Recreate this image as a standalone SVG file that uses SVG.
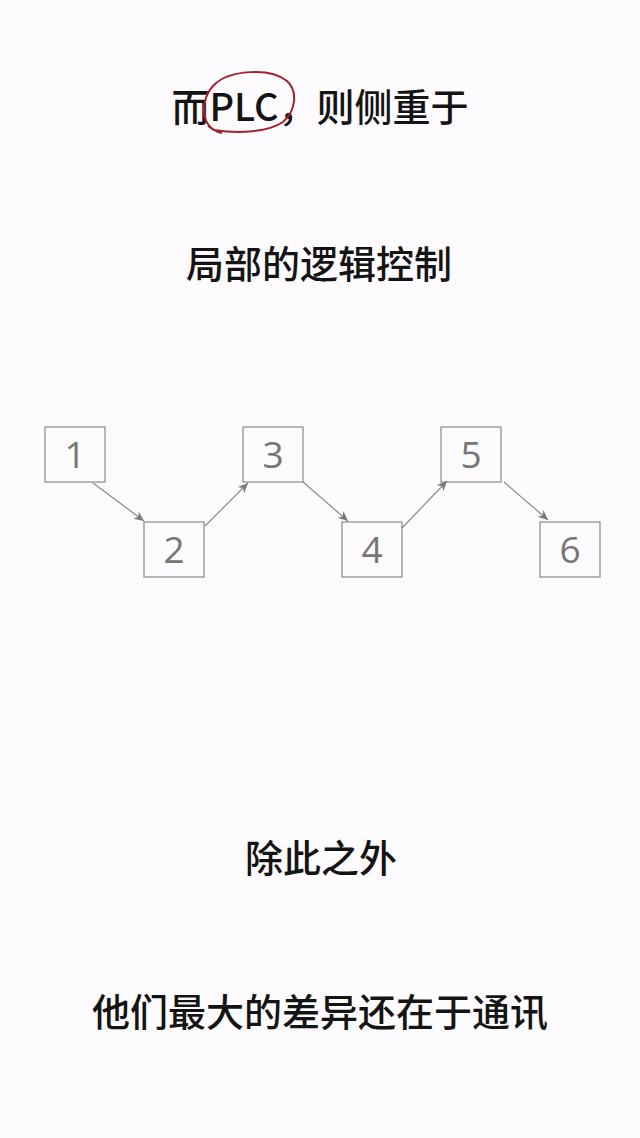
<svg xmlns="http://www.w3.org/2000/svg" width="640" height="1138" viewBox="0 0 640 1138">
<style>
.t{font-family:"Noto Sans CJK SC","Noto Sans",sans-serif;font-size:38px;fill:#141414;text-anchor:middle;font-weight:500}
.box{fill:none;stroke:#8a8a8a;stroke-width:1.2}
.num{font-family:"Open Sans","Noto Sans",sans-serif;font-size:37px;fill:#767676;text-anchor:middle}
.edge{stroke:#8a8a8a;stroke-width:1.2;fill:none;marker-end:url(#arr)}
</style>
<defs>
<marker id="arr" markerWidth="12" markerHeight="10" refX="10" refY="5" orient="auto" markerUnits="userSpaceOnUse">
<path d="M0,0.5 L10,5 L0,9.5 L3,5 Z" fill="#7a7a7a"/>
</marker>
</defs>
<rect width="640" height="1138" fill="#fdfbfd"/>
<g id="title1">
<text class="t" x="320" y="121">而PLC，则侧重于</text>
<path d="M222,133 C200,129 199,100 214,85 C229,70 270,67 287,81 C298,91 296,111 283,122 C268,132 240,134 214,130 L208,126" fill="none" stroke="#a3232c" stroke-width="2"/>
</g>
<g id="title2"><text class="t" x="319" y="278">局部的逻辑控制</text></g>
<g id="n1"><rect class="box" x="45" y="427" width="60" height="55"/><text class="num" x="75" y="468">1</text></g>
<g id="n2"><rect class="box" x="144" y="522" width="60" height="55"/><text class="num" x="174" y="563">2</text></g>
<g id="n3"><rect class="box" x="243" y="427" width="60" height="55"/><text class="num" x="273" y="468">3</text></g>
<g id="n4"><rect class="box" x="342" y="522" width="60" height="55"/><text class="num" x="372" y="563">4</text></g>
<g id="n5"><rect class="box" x="441" y="427" width="60" height="55"/><text class="num" x="471" y="468">5</text></g>
<g id="n6"><rect class="box" x="540" y="522" width="60" height="55"/><text class="num" x="570" y="563">6</text></g>
<g id="connectors">
<line class="edge" x1="93" y1="483" x2="144" y2="521"/>
<line class="edge" x1="205" y1="526" x2="248" y2="483"/>
<line class="edge" x1="303" y1="482" x2="348" y2="521"/>
<line class="edge" x1="402" y1="528" x2="447" y2="481"/>
<line class="edge" x1="504" y1="482" x2="548" y2="520"/>
</g>
<g id="title3"><text class="t" x="321" y="872">除此之外</text></g>
<g id="title4"><text class="t" x="320" y="1026">他们最大的差异还在于通讯</text></g>
</svg>
